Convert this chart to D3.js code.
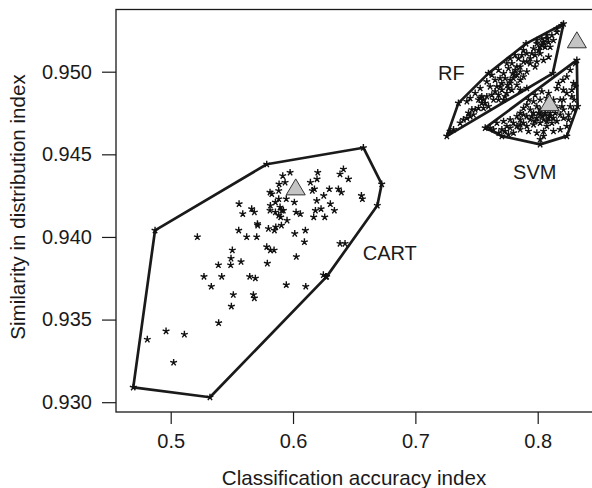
<!DOCTYPE html>
<html>
<head>
<meta charset="utf-8">
<script src="https://cdn.jsdelivr.net/npm/d3@7"></script>
<style>
  body { margin: 0; background: #fff; }
  svg { display: block; font-family: "Liberation Sans", Arial, Helvetica, sans-serif; }
</style>
</head>
<body>
<svg id="chart" width="592" height="488"></svg>
<script>
// group names
var groups = ['CART', 'RF', 'SVM'];

// CART runs: classification accuracy / similarity index
var cartX = [0.4694, 0.5321, 0.6267, 0.6689, 0.6725, 0.6575, 0.5785, 0.4872,
	0.4809, 0.4962, 0.5112, 0.5024, 0.5218, 0.5392, 0.5496, 0.5512, 0.5676, 0.5684,
	0.5332, 0.5272, 0.5417, 0.5646, 0.5692, 0.5390, 0.5490, 0.5493, 0.5504, 0.5575,
	0.5790, 0.5785, 0.5815, 0.5845, 0.5945, 0.6104, 0.6027, 0.6093, 0.6014, 0.6101,
	0.5556, 0.5621, 0.5703, 0.5709, 0.5711, 0.5799, 0.5848, 0.5859, 0.5905, 0.5951,
	0.5559, 0.5589, 0.5662, 0.5684, 0.5815, 0.5856, 0.5883, 0.5894, 0.5908, 0.5921,
	0.5883, 0.5899, 0.5856, 0.5945, 0.6011, 0.6025, 0.6060, 0.5812, 0.5826, 0.5883,
	0.5886, 0.5935, 0.5916, 0.5976, 0.6142, 0.6158, 0.6175, 0.6196, 0.6202, 0.6194,
	0.6169, 0.6183, 0.6229, 0.6259, 0.6251, 0.6297, 0.6305, 0.6338, 0.6371, 0.6395,
	0.6384, 0.6412, 0.6453, 0.6559, 0.6567, 0.6384, 0.6425, 0.6248, 0.6275, 0.5812];
var cartY = [0.9309, 0.9303, 0.9376, 0.9419, 0.9432, 0.9454, 0.9444, 0.9404,
	0.9338, 0.9343, 0.9341, 0.9324, 0.9400, 0.9348, 0.9358, 0.9365, 0.9365, 0.9363,
	0.9370, 0.9376, 0.9376, 0.9376, 0.9375, 0.9383, 0.9383, 0.9387, 0.9392, 0.9385,
	0.9384, 0.9394, 0.9392, 0.9392, 0.9371, 0.9370, 0.9388, 0.9397, 0.9402, 0.9404,
	0.9404, 0.9400, 0.9400, 0.9408, 0.9407, 0.9405, 0.9404, 0.9406, 0.9407, 0.9410,
	0.9420, 0.9414, 0.9417, 0.9415, 0.9419, 0.9421, 0.9423, 0.9418, 0.9416, 0.9416,
	0.9413, 0.9412, 0.9415, 0.9423, 0.9421, 0.9415, 0.9414, 0.9427, 0.9426, 0.9428,
	0.9432, 0.9433, 0.9437, 0.9439, 0.9433, 0.9428, 0.9429, 0.9435, 0.9439, 0.9422,
	0.9412, 0.9416, 0.9417, 0.9412, 0.9425, 0.9429, 0.9420, 0.9416, 0.9429, 0.9427,
	0.9438, 0.9441, 0.9435, 0.9425, 0.9423, 0.9396, 0.9396, 0.9377, 0.9376, 0.9416];

// RF runs
var rfX = [0.8211, 0.8123, 0.7911, 0.7257, 0.7352, 0.7597, 0.7905,
	0.8197, 0.8157, 0.8116, 0.8075, 0.8048, 0.8089, 0.8034, 0.7993, 0.7966, 0.8007,
	0.8061, 0.8102, 0.8129, 0.8020, 0.7979, 0.7939, 0.7993, 0.7939, 0.7911, 0.7870,
	0.7884, 0.7857, 0.7816, 0.7830, 0.7802, 0.7857, 0.7830, 0.7775, 0.7761, 0.7789,
	0.7748, 0.7721, 0.7693, 0.7707, 0.7666, 0.7652, 0.7625, 0.7584, 0.7557, 0.7530,
	0.7543, 0.7516, 0.7489, 0.7475, 0.7448, 0.7421, 0.7393, 0.7557, 0.7598, 0.7639,
	0.7680, 0.7721, 0.7734, 0.7761, 0.7789, 0.7775, 0.7816, 0.7884, 0.7843, 0.7748,
	0.7680, 0.7625, 0.7584, 0.7530, 0.7489, 0.7448, 0.7421, 0.7611, 0.7652, 0.7707,
	0.7680, 0.7993, 0.8034, 0.8075, 0.8157, 0.8089, 0.8048, 0.7979, 0.7911, 0.7884,
	0.7857, 0.7312, 0.7366, 0.7284, 0.8053, 0.8020, 0.7808, 0.7775, 0.7753, 0.7797,
	0.7516, 0.7543, 0.7571, 0.7462, 0.7434, 0.7693, 0.7734, 0.7911, 0.7952, 0.7857, 0.7830];
var rfY = [0.9529, 0.9499, 0.9490, 0.9461, 0.9481, 0.9499, 0.9517,
	0.9528, 0.9524, 0.9522, 0.9520, 0.9518, 0.9518, 0.9516, 0.9517, 0.9514, 0.9513,
	0.9515, 0.9515, 0.9519, 0.9511, 0.9510, 0.9508, 0.9506, 0.9505, 0.9511, 0.9510,
	0.9506, 0.9503, 0.9501, 0.9498, 0.9496, 0.9495, 0.9492, 0.9493, 0.9490, 0.9489,
	0.9487, 0.9499, 0.9496, 0.9493, 0.9491, 0.9488, 0.9486, 0.9485, 0.9483, 0.9484,
	0.9481, 0.9478, 0.9477, 0.9474, 0.9473, 0.9472, 0.9471, 0.9478, 0.9479, 0.9483,
	0.9483, 0.9483, 0.9485, 0.9502, 0.9505, 0.9508, 0.9510, 0.9513, 0.9508, 0.9505,
	0.9501, 0.9498, 0.9494, 0.9490, 0.9487, 0.9484, 0.9482, 0.9491, 0.9495, 0.9489,
	0.9486, 0.9519, 0.9520, 0.9522, 0.9526, 0.9509, 0.9507, 0.9503, 0.9500, 0.9497,
	0.9489, 0.9465, 0.9469, 0.9464, 0.9517, 0.9515, 0.9498, 0.9495, 0.9492, 0.9499,
	0.9483, 0.9485, 0.9481, 0.9477, 0.9475, 0.9491, 0.9496, 0.9506, 0.9511, 0.9500, 0.9503];

// SVM runs
var svmX = [0.8320, 0.8326, 0.8238, 0.8020, 0.7707, 0.7571,
	0.8307, 0.8266, 0.8238, 0.8293, 0.8307, 0.8157, 0.8211, 0.8279, 0.8298, 0.8266,
	0.8184, 0.8129, 0.8075, 0.8020, 0.7966, 0.7993, 0.7939, 0.7884, 0.7857, 0.7830,
	0.7775, 0.7721, 0.7666, 0.7611, 0.7639, 0.7707, 0.7748, 0.7802, 0.7857, 0.7911,
	0.7966, 0.8020, 0.8061, 0.8102, 0.8143, 0.8184, 0.8211, 0.8252, 0.8238, 0.8184,
	0.8129, 0.8075, 0.8020, 0.7966, 0.7911, 0.7857, 0.7802, 0.7761, 0.7993, 0.8048,
	0.8020, 0.7857, 0.7939, 0.7993, 0.8048, 0.8075, 0.8116, 0.8157, 0.8198, 0.7979,
	0.8034, 0.8089, 0.7925, 0.7884, 0.7911, 0.7775, 0.7734, 0.8238, 0.8279, 0.8170,
	0.8206, 0.8048, 0.8116, 0.8157, 0.8211, 0.8020, 0.7952, 0.8061, 0.8089, 0.8034,
	0.8102, 0.8007, 0.8075, 0.8129, 0.7979, 0.7884, 0.7830, 0.7925, 0.8211, 0.8252,
	0.8293, 0.7682];
var svmY = [0.9507, 0.9479, 0.9461, 0.9456, 0.9461, 0.9466,
	0.9505, 0.9501, 0.9497, 0.9493, 0.9491, 0.9490, 0.9489, 0.9485, 0.9483, 0.9479,
	0.9483, 0.9483, 0.9484, 0.9483, 0.9482, 0.9479, 0.9477, 0.9478, 0.9475, 0.9473,
	0.9471, 0.9470, 0.9469, 0.9466, 0.9465, 0.9465, 0.9467, 0.9469, 0.9471, 0.9473,
	0.9475, 0.9474, 0.9475, 0.9473, 0.9475, 0.9474, 0.9472, 0.9471, 0.9467, 0.9465,
	0.9464, 0.9467, 0.9469, 0.9468, 0.9467, 0.9465, 0.9463, 0.9462, 0.9463, 0.9461,
	0.9459, 0.9468, 0.9471, 0.9472, 0.9471, 0.9478, 0.9479, 0.9478, 0.9479, 0.9486,
	0.9488, 0.9487, 0.9483, 0.9474, 0.9480, 0.9466, 0.9464, 0.9487, 0.9489, 0.9493,
	0.9495, 0.9464, 0.9469, 0.9470, 0.9477, 0.9477, 0.9473, 0.9474, 0.9472, 0.9473,
	0.9475, 0.9475, 0.9470, 0.9472, 0.9470, 0.9469, 0.9467, 0.9464, 0.9483, 0.9474,
	0.9477, 0.9463];

// reference (triangle) values per group
var refX = [0.6022, 0.8320, 0.8096];
var refY = [0.9430, 0.9519, 0.9481];

// label anchors (data units)
var labelX = [0.657, 0.7186, 0.7799];
var labelY = [0.9386, 0.9495, 0.9435];

var xTicks = [0.5, 0.6, 0.7, 0.8];
var yTicks = [0.930, 0.935, 0.940, 0.945, 0.950];

var svg = d3.select('#chart');
var x = d3.scaleLinear().domain([0.5, 0.8]).range([170.7, 537.7]);
var y = d3.scaleLinear().domain([0.930, 0.950]).range([402.2, 71.7]);
var ink = '#1a1a1a';

var pts = [cartX, rfX, svmX].map(function (xs, g) {
	var ys = [cartY, rfY, svmY][g];
	return xs.map(function (v, i) { return [x(v), y(ys[i])]; });
});

// frame
svg.append('rect')
	.attr('x', 116).attr('y', 9.5)
	.attr('width', 520).attr('height', 402.5)
	.attr('fill', 'none').attr('stroke', ink).attr('stroke-width', 1.3);

// axes
var gx = svg.append('g').attr('transform', 'translate(0,412)')
	.call(d3.axisBottom(x).tickValues(xTicks).tickSize(12).tickPadding(10).tickFormat(d3.format('.1f')));
var gy = svg.append('g').attr('transform', 'translate(116,0)')
	.call(d3.axisLeft(y).tickValues(yTicks).tickSize(14).tickPadding(10).tickFormat(d3.format('.3f')));
[gx, gy].forEach(function (g) {
	g.select('.domain').remove();
	g.selectAll('line').attr('stroke', ink).attr('stroke-width', 1.2);
	g.selectAll('text').attr('font-size', 20).attr('fill', ink)
		.attr('font-family', '"Liberation Sans", Arial, sans-serif');
});

svg.append('text')
	.attr('x', 354).attr('y', 485)
	.attr('text-anchor', 'middle').attr('font-size', 20.6).attr('fill', ink)
	.text('Classification accuracy index');
svg.append('text')
	.attr('transform', 'translate(25,207) rotate(-90)')
	.attr('text-anchor', 'middle').attr('font-size', 20.6).attr('fill', ink)
	.text('Similarity in distribution index');

// hulls
pts.forEach(function (p) {
	var hull = d3.polygonHull(p);
	svg.append('path')
		.attr('d', 'M' + hull.join('L') + 'Z')
		.attr('fill', 'none').attr('stroke', ink)
		.attr('stroke-width', 2.7).attr('stroke-linejoin', 'round');
});

// asterisks
var star = function (r) {
	var d = '';
	for (var k = 0; k < 5; k++) {
		var a = (-90 + 72 * k) * Math.PI / 180;
		d += 'M0,0L' + (r * Math.cos(a)).toFixed(2) + ',' + (r * Math.sin(a)).toFixed(2);
	}
	return d;
};
pts.forEach(function (p) {
	svg.append('g').selectAll('path').data(p).enter().append('path')
		.attr('transform', function (d) { return 'translate(' + d[0] + ',' + d[1] + ')'; })
		.attr('d', star(3.6))
		.attr('stroke', '#111').attr('stroke-width', 1.4).attr('fill', 'none');
});

// reference triangles
svg.append('g').selectAll('path').data(refX).enter().append('path')
	.attr('transform', function (d, i) { return 'translate(' + x(d) + ',' + y(refY[i]) + ')'; })
	.attr('d', 'M0,-8.5L9.5,7.5L-9.5,7.5Z')
	.attr('fill', '#c4c4c4').attr('stroke', '#333').attr('stroke-width', 1);

// group labels
svg.append('g').selectAll('text').data(groups).enter().append('text')
	.attr('x', function (d, i) { return x(labelX[i]); })
	.attr('y', function (d, i) { return y(labelY[i]); })
	.attr('font-size', 20).attr('fill', ink)
	.text(function (d) { return d; });
</script>
